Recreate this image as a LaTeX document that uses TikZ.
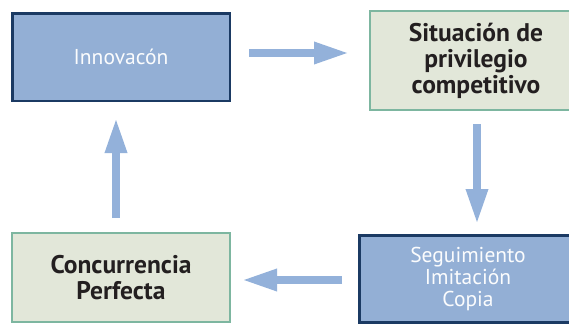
\documentclass[tikz,border=0pt]{standalone}
\usepackage{fontspec}
\setmainfont{PT Sans}
\usepackage{xcolor}
\usepackage{tikz}
\usetikzlibrary{arrows.meta, positioning}
\definecolor{cycleblue}{RGB}{147,175,213}
\definecolor{cyclenavy}{RGB}{27,58,99}
\definecolor{cyclegreen}{RGB}{125,182,160}
\definecolor{cyclepale}{RGB}{226,231,217}
\definecolor{arrowblue}{RGB}{147,177,218}
\definecolor{textdark}{RGB}{35,31,32}

\begin{document}
\begin{tikzpicture}[
    x=1pt, y=-1pt,
    % Node styles
    bluebox/.style={rectangle, inner sep=0pt, align=center, draw=cyclenavy, line width=2.5pt,
                    fill=cycleblue, text=white!96!cycleblue, font=\fontsize{21.5pt}{22pt}\selectfont},
    greenbox/.style={rectangle, inner sep=0pt, align=center, draw=cyclegreen, line width=2pt,
                     fill=cyclepale, text=textdark, font=\bfseries\fontsize{25.5pt}{26pt}\selectfont},
    flow/.style={draw=arrowblue, line width=8.5pt, -{Triangle[length=36pt, width=20pt]}}
]

% Frame
\clip (0,0) rectangle (569,324);

% Boxes
\node (innov) [bluebox, minimum width=217.5pt, minimum height=87.5pt] at (121,57) {Innovacón};
\node (sit) [greenbox, minimum width=212pt, minimum height=99pt] at (476,60.5) {Situación de\\privilegio\\competitivo};
\node (seg) [bluebox, minimum width=217.5pt, minimum height=87pt] at (468,278.75) {Seguimiento\\Imitación\\Copia};
\node (conc) [greenbox, minimum width=218pt, minimum height=89pt] at (121,277.5) {Concurrencia\\Perfecta};

% Arrows
\draw [flow, shorten <=18pt, shorten >=19pt] (innov.east |- 0,53) -- (sit.west |- 0,53);
\draw [flow, shorten <=13pt, shorten >=9pt] (sit.south -| 477,0) -- (seg.north -| 477,0);
\draw [flow, shorten <=16pt, shorten >=10pt] (seg.west |- 0,280) -- (conc.east |- 0,280);
\draw [flow, shorten <=14pt, shorten >=15pt] (conc.north -| 116,0) -- (innov.south -| 116,0);

\end{tikzpicture}
\end{document}
